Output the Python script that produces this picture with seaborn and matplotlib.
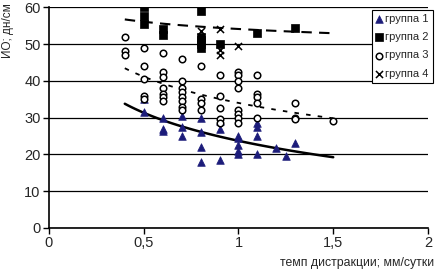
import matplotlib
matplotlib.use("Agg")
import matplotlib.pyplot as plt
import numpy as np
import pandas as pd
import seaborn as sns

# group 1 (triangles)
g1_x = [0.5, 0.5, 0.6, 0.6, 0.6, 0.7, 0.7, 0.7, 0.8, 0.8, 0.8, 0.8, 0.9, 0.9, 0.9,
        1.0, 1.0, 1.0, 1.0, 1.0, 1.1, 1.1, 1.1, 1.1, 1.2, 1.25, 1.3]
g1_y = [35, 31.5, 30, 27, 26.5, 30.5, 27.5, 25, 30, 26, 22, 18, 29, 27, 18.5,
        25, 24.5, 22.5, 21, 20, 28.5, 27.5, 25, 20, 21.7, 19.5, 23]

# group 2 (squares)
g2_x = [0.5, 0.5, 0.5, 0.6, 0.6, 0.8, 0.8, 0.8, 0.8, 0.8, 0.9, 1.1, 1.3]
g2_y = [60, 57.5, 55.5, 54, 52.5, 59, 52, 51, 50, 49, 50, 53, 54.5]

# group 3 (open circles)
g3_x = [0.4, 0.4, 0.4,
        0.5, 0.5, 0.5, 0.5, 0.5,
        0.6, 0.6, 0.6, 0.6, 0.6, 0.6, 0.6,
        0.7, 0.7, 0.7, 0.7, 0.7, 0.7, 0.7, 0.7,
        0.8, 0.8, 0.8, 0.8,
        0.9, 0.9, 0.9, 0.9, 0.9,
        1.0, 1.0, 1.0, 1.0, 1.0, 1.0, 1.0, 1.0,
        1.1, 1.1, 1.1, 1.1, 1.1,
        1.3, 1.3, 1.3, 1.5]
g3_y = [52, 48, 47,
        49, 44, 40.5, 36, 35,
        47.5, 42.5, 41, 38, 36.5, 35.5, 34.5,
        46, 40, 38, 37, 35.5, 34.5, 33, 32,
        44, 35, 34, 32,
        41.5, 36, 32.5, 29.5, 28.5,
        42.5, 41.5, 40, 38, 32, 31, 30, 28.5,
        41.5, 36.5, 35.5, 34, 30,
        34, 30, 29.5, 29]

# group 4 (crosses)
g4_x = [0.8, 0.9, 0.9, 0.9, 1.0]
g4_y = [53.5, 54, 48.5, 47, 49.5]

# logarithmic trend lines y = a + b*ln(x)
trend_a = [23.7, 54.1, 34.0]
trend_b = [-11.0, -2.84, -10.3]
trend_range = [0.4, 1.5]

group_names = ["группа 1", "группа 2", "группа 3", "группа 4"]
x_ticks = [0, 0.5, 1, 1.5, 2]
x_tick_labels = ["0", "0,5", "1", "1,5", "2"]
y_ticks = [0, 10, 20, 30, 40, 50, 60]

sns.set_style("white")
plt.rcParams["font.family"] = ["Liberation Sans", "DejaVu Sans"]

fig = plt.figure(figsize=(4.43, 2.71), dpi=100)
ax = fig.add_axes([0.1106, 0.1587, 0.8555, 0.8144])

ax.grid(axis="y", color="black", lw=0.9)
ax.set_axisbelow(True)


def log_trend(a, b):
    xx = np.linspace(trend_range[0], trend_range[1], 60)
    return pd.DataFrame({"x": xx, "y": a + b * np.log(xx)})


t1 = log_trend(trend_a[0], trend_b[0])
t2 = log_trend(trend_a[1], trend_b[1])
t3 = log_trend(trend_a[2], trend_b[2])
sns.lineplot(data=t1, x="x", y="y", ax=ax, color="black", lw=1.8)
sns.lineplot(data=t2, x="x", y="y", ax=ax, color="black", lw=1.5,
             linestyle=(0, (5, 3.5)))
sns.lineplot(data=t3, x="x", y="y", ax=ax, color="black", lw=1.3,
             linestyle=(0, (2.5, 4)))

sns.scatterplot(x=g1_x, y=g1_y, ax=ax, marker="^", s=30, color="#1c1c7a",
                edgecolor="#1c1c7a", linewidth=0.5, label=group_names[0], zorder=3)
sns.scatterplot(x=g2_x, y=g2_y, ax=ax, marker="s", s=26, color="black",
                edgecolor="black", linewidth=0.5, label=group_names[1], zorder=3)
sns.scatterplot(x=g3_x, y=g3_y, ax=ax, marker="o", s=22, facecolor="white",
                edgecolor="black", linewidth=1.1, label=group_names[2], zorder=3)
sns.scatterplot(x=g4_x, y=g4_y, ax=ax, marker="x", s=26, color="black",
                linewidth=1.1, label=group_names[3], zorder=3)

ax.set_xlim(0, 2)
ax.set_ylim(0, 60)
ax.set_xticks(x_ticks)
ax.set_xticklabels(x_tick_labels)
ax.set_yticks(y_ticks)
ax.tick_params(axis="both", labelsize=10.5, length=4, width=1, color="black",
               direction="out", pad=2, bottom=True, left=True)
for side in ["top", "right"]:
    ax.spines[side].set_visible(False)
for side in ["left", "bottom"]:
    ax.spines[side].set_color("black")
    ax.spines[side].set_linewidth(1.2)

ax.set_ylabel("ИО; дн/см", fontsize=8.5, loc="top")
ax.yaxis.set_label_coords(-0.093, 1.02)
ax.set_xlabel("темп дистракции; мм/сутки", fontsize=8.8, loc="right")
ax.xaxis.set_label_coords(1.016, -0.13)

leg = ax.legend(loc="upper left", bbox_to_anchor=(0.851, 0.988), borderaxespad=0,
                fontsize=8, frameon=True, fancybox=False, edgecolor="black",
                framealpha=1, handlelength=0.6, handletextpad=0.3,
                labelspacing=0.75, borderpad=0.35)
leg.get_frame().set_linewidth(0.8)

fig.savefig("out.png", dpi=100)
